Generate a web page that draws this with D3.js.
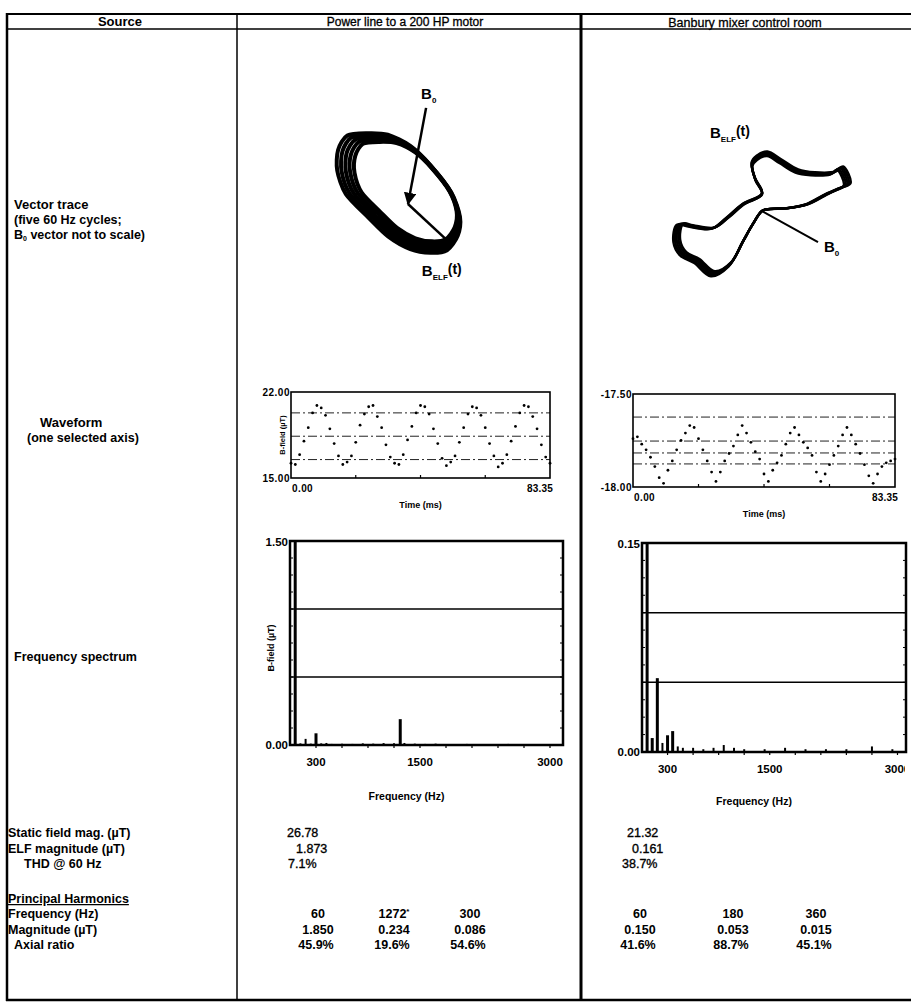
<!DOCTYPE html>
<html>
<head>
<meta charset="utf-8">
<script src="https://cdn.jsdelivr.net/npm/d3@7"></script>
<style>
  body { margin: 0; background: #fff; }
  svg { display: block; font-family: "Liberation Sans", Arial, sans-serif; }
  .b { font-weight: bold; }
</style>
</head>
<body>
<div id="chart"></div>
<script>
// ---- table text ----
const sources = ["Power line to a 200 HP motor", "Banbury mixer control room"];
const staticField = ["26.78", "21.32"];
const elfMagnitude = ["1.873", "0.161"];
const thd = ["7.1%", "38.7%"];
const harmonicFreq = [["60", "1272", "300"], ["60", "180", "360"]];
const harmonicMag = [["1.850", "0.234", "0.086"], ["0.150", "0.053", "0.015"]];
const axialRatio = [["45.9%", "19.6%", "54.6%"], ["41.6%", "88.7%", "45.1%"]];

// ---- vector traces ----
// power line: one 60 Hz loop, µT relative to the B0 tip
const leftTraceX = [1.35, 0.78, 0.08, -0.68, -1.38, -2.15, -2.45, -2.42, -2.10, -1.40, -0.70, 0.08, 0.78, 1.50, 1.80, 1.72];
const leftTraceY = [-1.60, -1.69, -1.56, -1.13, -0.46, 0.34, 1.16, 1.87, 2.37, 2.45, 2.40, 2.01, 1.34, 0.40, -0.45, -1.10];
const leftCycleGain = [0.89, 0.935, 0.98, 1.025, 1.07];
const leftCycleShift = [[0.20, 0.12], [0.15, 0.09], [0.10, 0.06], [0.05, 0.03], [0, 0]];
const leftB0 = [0.67, 3.56]; // not to scale

// banbury mixer: one loop, nT relative to the B0 tip
const rightTraceX = [0, -23, -47, -80, -123, -163, -197, -213, -205, -180, -123, -87, -47, 0, -17, -25, -13, 13, 45, 87, 127, 177, 195, 213, 195, 163, 113, 63, 20];
const rightTraceY = [0, -33, -75, -133, -157, -125, -107, -75, -33, -37, -43, -17, 17, 43, 80, 117, 133, 143, 125, 100, 93, 95, 107, 67, 57, 43, 17, 7, 5];
const rightCycleGain = [0.96, 0.98, 1.0, 1.02, 1.04];
const rightB0 = [140, -78]; // not to scale

// ---- waveforms (5 cycles, 61 samples over 83.35 ms) ----
const tSamples = d3.range(61).map(i => i * 83.35 / 60);
const leftWave = [
  16.2, 16.1, 16.9, 18.0, 19.1, 20.3, 20.9, 20.7, 20.1, 19.0, 17.8, 16.8,
  16.1, 16.3, 16.8, 17.9, 19.3, 20.2, 20.8, 20.9, 20.0, 19.1, 17.7, 16.7,
  16.2, 16.1, 16.9, 18.1, 19.2, 20.3, 20.9, 20.8, 20.2, 19.0, 17.8, 16.6,
  16.0, 16.3, 16.8, 17.9, 19.1, 20.2, 20.8, 20.7, 20.1, 19.1, 17.8, 16.8,
  15.9, 16.2, 16.9, 18.0, 19.2, 20.3, 20.9, 20.8, 20.0, 19.0, 17.7, 16.7,
  16.2
];
const rightWave = [
  -17.74, -17.73, -17.77, -17.80, -17.84, -17.89, -17.95, -17.98, -17.91, -17.86, -17.80, -17.75,
  -17.71, -17.67, -17.68, -17.74, -17.80, -17.86, -17.92, -17.97, -17.92, -17.86, -17.82, -17.78,
  -17.72, -17.67, -17.71, -17.76, -17.81, -17.85, -17.93, -17.97, -17.91, -17.87, -17.83, -17.77,
  -17.71, -17.68, -17.72, -17.76, -17.79, -17.83, -17.92, -17.97, -17.93, -17.88, -17.83, -17.78,
  -17.72, -17.68, -17.72, -17.77, -17.82, -17.88, -17.94, -17.98, -17.93, -17.89, -17.87, -17.86,
  -17.85
];
const leftWaveGrid = [20.3, 18.4, 16.5];
const rightWaveGrid = [-17.624, -17.753, -17.817, -17.876];

// ---- spectra ----
const leftSpecFreq = [60, 120, 180, 240, 300, 360, 420, 480, 600, 720, 840, 960, 1080, 1200, 1272, 1320, 1440, 1560, 1680, 1800, 2040, 2280, 2520, 2760, 3000];
const leftSpecMag = [1.85, 0.012, 0.045, 0.010, 0.086, 0.012, 0.015, 0.008, 0.010, 0.008, 0.012, 0.010, 0.014, 0.012, 0.19, 0.015, 0.010, 0.008, 0.010, 0.006, 0.008, 0.006, 0.008, 0.006, 0.006];
const rightSpecFreq = [60, 120, 180, 240, 300, 360, 420, 480, 600, 720, 840, 960, 1080, 1200, 1440, 1680, 1920, 2160, 2400, 2700, 2940];
const rightSpecMag = [0.150, 0.010, 0.053, 0.0065, 0.012, 0.015, 0.004, 0.003, 0.003, 0.002, 0.003, 0.005, 0.003, 0.002, 0.002, 0.003, 0.002, 0.002, 0.002, 0.004, 0.002];
const specTicks = [300, 1500, 3000];

const W = 913, H = 1007;
const svg = d3.select("#chart").append("svg").attr("width", W).attr("height", H);
svg.append("rect").attr("width", W).attr("height", H).attr("fill", "#fff");
const defs = svg.append("defs");

// ---- table rules ----
const rules = svg.append("g").attr("stroke", "#000");
rules.append("line").attr("x1", 6).attr("x2", 911).attr("y1", 14).attr("y2", 14).attr("stroke-width", 2);
rules.append("line").attr("x1", 6).attr("x2", 911).attr("y1", 29).attr("y2", 29).attr("stroke-width", 1.5);
rules.append("line").attr("x1", 6).attr("x2", 911).attr("y1", 1000).attr("y2", 1000).attr("stroke-width", 2.5);
rules.append("line").attr("x1", 7).attr("x2", 7).attr("y1", 13).attr("y2", 1001).attr("stroke-width", 2.5);
rules.append("line").attr("x1", 237).attr("x2", 237).attr("y1", 13).attr("y2", 1001).attr("stroke-width", 1.5);
rules.append("line").attr("x1", 581).attr("x2", 581).attr("y1", 13).attr("y2", 1001).attr("stroke-width", 3);

function txt(x, y, s, opts = {}) {
  return svg.append("text").attr("x", x).attr("y", y)
    .attr("class", opts.bold === false ? null : "b")
    .attr("text-anchor", opts.anchor || "start")
    .style("font-size", (opts.size || 12.5) + "px")
    .text(s);
}

// header
txt(120, 26, "Source", { anchor: "middle", size: 13 });
txt(405, 26, sources[0], { anchor: "middle", size: 12, bold: false }).attr("stroke", "#000").attr("stroke-width", 0.3);
txt(745, 26.5, sources[1], { anchor: "middle", size: 12.5, bold: false }).attr("stroke", "#000").attr("stroke-width", 0.3);

// left column labels
txt(14, 209, "Vector trace", { size: 13 });
txt(14, 224, "(five 60 Hz cycles;");
const b0t = txt(14, 239, "B");
b0t.append("tspan").attr("dy", 2).style("font-size", "7px").text("0");
b0t.append("tspan").attr("dy", -2).text(" vector not to scale)");
txt(40, 427, "Waveform", { size: 13 });
txt(27, 442, "(one selected axis)");
txt(14, 661, "Frequency spectrum");
txt(8, 837, "Static field mag. (µT)");
txt(8, 853, "ELF magnitude (µT)");
txt(24, 868, "THD @ 60 Hz");
txt(8, 903, "Principal Harmonics").style("text-decoration", "underline");
txt(8, 918, "Frequency (Hz)");
txt(8, 934, "Magnitude (µT)");
txt(14, 949, "Axial ratio");

// values
const staticStart = [[287, 296, 288], [627, 632, 622]];
const harmCenter = [[318, 394, 470], [640, 733, 816]];
[0, 1].forEach(c => {
  txt(staticStart[c][0], 837, staticField[c], { bold: false }).attr("stroke", "#000").attr("stroke-width", 0.35);
  txt(staticStart[c][1], 853, elfMagnitude[c], { bold: false }).attr("stroke", "#000").attr("stroke-width", 0.35);
  txt(staticStart[c][2], 868, thd[c], { bold: false }).attr("stroke", "#000").attr("stroke-width", 0.35);
  harmonicFreq[c].forEach((v, i) => {
    const t = txt(harmCenter[c][i], 918, v, { anchor: "middle" });
    if (c === 0 && i === 1) t.append("tspan").attr("dy", -4).style("font-size", "8px").text("*");
  });
  harmonicMag[c].forEach((v, i) => txt(harmCenter[c][i], 934, v, { anchor: "middle" }));
  axialRatio[c].forEach((v, i) => txt(harmCenter[c][i] - 2, 949, v, { anchor: "middle" }));
});

// ---- B label helper ----
function bLabel(x, y, sub, suffix) {
  const t = txt(x, y, "B", { size: 15 });
  t.append("tspan").attr("dy", 4).style("font-size", "8px").text(sub);
  if (suffix) t.append("tspan").attr("dy", -6).style("font-size", "14px").text(suffix);
}

defs.append("marker")
  .attr("id", "arrow").attr("viewBox", "0 0 10 10").attr("refX", 9).attr("refY", 5)
  .attr("markerWidth", 5).attr("markerHeight", 5).attr("orient", "auto-start-reverse")
  .append("path").attr("d", "M0,0L10,5L0,10Z").attr("fill", "#000");

// ---- vector trace: power line ----
{
  const ox = 408, oy = 204, k = 27; // px per µT
  const x = d3.scaleLinear().domain([-1, 1]).range([ox - k, ox + k]);
  const y = d3.scaleLinear().domain([-1, 1]).range([oy + k, oy - k]);
  const line = d3.line().x(d => x(d[0])).y(d => y(d[1])).curve(d3.curveCardinalClosed.tension(0.2));
  const g = svg.append("g");
  leftCycleGain.forEach((gain, c) => {
    const pts = leftTraceX.map((v, i) => [v * gain + leftCycleShift[c][0], leftTraceY[i] * gain + leftCycleShift[c][1]]);
    g.append("path").attr("d", line(pts)).attr("fill", "none").attr("stroke", "#000").attr("stroke-width", 4);
  });
  // B0 arrow from label down to origin
  g.append("line").attr("x1", x(leftB0[0])).attr("y1", y(leftB0[1])).attr("x2", x(0)).attr("y2", y(0))
    .attr("stroke", "#000").attr("stroke-width", 2.5).attr("marker-end", "url(#arrow)");
  const tip = [leftTraceX[0] * leftCycleGain[0] + leftCycleShift[0][0], leftTraceY[0] * leftCycleGain[0] + leftCycleShift[0][1]];
  g.append("line").attr("x1", x(0)).attr("y1", y(0)).attr("x2", x(tip[0])).attr("y2", y(tip[1]))
    .attr("stroke", "#000").attr("stroke-width", 2.5);
  bLabel(x(leftB0[0]) - 5, y(leftB0[1]) - 9, "0");
  bLabel(x(tip[0]) - 24, y(tip[1]) + 37, "ELF", "(t)");
}

// ---- vector trace: banbury mixer ----
{
  const ox = 762, oy = 211, k = 0.4; // px per nT
  const x = d3.scaleLinear().domain([0, 100]).range([ox, ox + 100 * k]);
  const y = d3.scaleLinear().domain([0, 100]).range([oy, oy - 100 * k]);
  const line = d3.line().x(d => x(d[0])).y(d => y(d[1])).curve(d3.curveCatmullRomClosed);
  const g = svg.append("g");
  rightCycleGain.forEach(gain => {
    const pts = rightTraceX.map((v, i) => [v * gain, rightTraceY[i] * gain]);
    g.append("path").attr("d", line(pts)).attr("fill", "none").attr("stroke", "#000").attr("stroke-width", 2.4);
  });
  g.append("line").attr("x1", x(0)).attr("y1", y(0)).attr("x2", x(rightB0[0])).attr("y2", y(rightB0[1]))
    .attr("stroke", "#000").attr("stroke-width", 2);
  bLabel(x(rightB0[0]) + 6, y(rightB0[1]) + 10, "0");
  bLabel(710, 138, "ELF", "(t)");
}

// ---- waveform panels ----
function waveform(box, yDomain, values, grid, yLabels, showTitle) {
  const x = d3.scaleLinear().domain([0, 83.35]).range([box.x0, box.x1]);
  const y = d3.scaleLinear().domain(yDomain).range([box.y1, box.y0]);
  const g = svg.append("g");
  g.selectAll(".grid").data(grid).join("line")
    .attr("x1", box.x0).attr("x2", box.x1).attr("y1", d => y(d)).attr("y2", d => y(d))
    .attr("stroke", "#222").attr("stroke-width", 1).attr("stroke-dasharray", "9,3,2,3");
  g.selectAll("circle").data(values).join("circle")
    .attr("cx", (d, i) => x(tSamples[i])).attr("cy", d => y(d)).attr("r", 1.4).attr("fill", "#000");
  g.append("rect").attr("x", box.x0).attr("y", box.y0).attr("width", box.x1 - box.x0).attr("height", box.y1 - box.y0)
    .attr("fill", "none").attr("stroke", "#000").attr("stroke-width", 1.6);
  g.selectAll(".tk").data([20.84, 41.68, 62.51]).join("line")
    .attr("x1", d => x(d)).attr("x2", d => x(d)).attr("y1", box.y1).attr("y2", box.y1 - 3)
    .attr("stroke", "#000").attr("stroke-width", 1.2);
  const fs = 10;
  txt(box.x0 - 1, y(yDomain[1]) + 3.5, yLabels[1], { anchor: "end", size: fs }).style("letter-spacing", "0.5px");
  txt(box.x0 - 1, y(yDomain[0]) + 3.5, yLabels[0], { anchor: "end", size: fs }).style("letter-spacing", "0.5px");
  txt(box.x0 + 1, box.y1 + 14, "0.00", { size: fs }).style("letter-spacing", "0.4px");
  txt(box.x1 + 3, box.y1 + 14, "83.35", { anchor: "end", size: fs }).style("letter-spacing", "0.2px");
  txt((box.x0 + box.x1) / 2, box.y1 + 30, "Time (ms)", { anchor: "middle", size: 9 });
  if (showTitle) {
    txt(0, 0, "B-field (µT)", { anchor: "middle", size: 7.5 })
      .attr("transform", `translate(${box.x0 - 6},${(box.y0 + box.y1) / 2}) rotate(-90)`);
  }
}
waveform({ x0: 291, x1: 550, y0: 392, y1: 478 }, [15, 22], leftWave, leftWaveGrid, ["15.00", "22.00"], true);
waveform({ x0: 633, x1: 895, y0: 394, y1: 487 }, [-18, -17.5], rightWave, rightWaveGrid, ["-18.00", "-17.50"], false);

// ---- spectrum panels ----
function spectrum(box, xMax, yMax, freqs, mags, yLabels, labelY, titleY, showTitle, clipRight) {
  const x = d3.scaleLinear().domain([0, xMax]).range([box.x0, box.x1]);
  const y = d3.scaleLinear().domain([0, yMax]).range([box.y1, box.y0]);
  const g = svg.append("g");
  [yMax / 3, 2 * yMax / 3].forEach(v => {
    g.append("line").attr("x1", box.x0).attr("x2", box.x1).attr("y1", y(v)).attr("y2", y(v))
      .attr("stroke", "#000").attr("stroke-width", 1.5);
  });
  g.selectAll(".bar").data(freqs).join("line")
    .attr("x1", d => x(d)).attr("x2", d => x(d))
    .attr("y1", box.y1).attr("y2", (d, i) => y(Math.min(mags[i], yMax)))
    .attr("stroke", "#000").attr("stroke-width", (d, i) => mags[i] > yMax * 0.05 ? 3 : 2);
  g.append("rect").attr("x", box.x0).attr("y", box.y0).attr("width", box.x1 - box.x0).attr("height", box.y1 - box.y0)
    .attr("fill", "none").attr("stroke", "#000").attr("stroke-width", 2.5);
  // minor ticks
  const yt = d3.range(1, 12).map(i => i * yMax / 12);
  g.selectAll(".ly").data(yt).join("line")
    .attr("x1", box.x0).attr("x2", box.x0 + 3).attr("y1", d => y(d)).attr("y2", d => y(d))
    .attr("stroke", "#000").attr("stroke-width", 1);
  g.selectAll(".ry").data(yt).join("line")
    .attr("x1", box.x1).attr("x2", box.x1 - 3).attr("y1", d => y(d)).attr("y2", d => y(d))
    .attr("stroke", "#000").attr("stroke-width", 1);
  g.selectAll(".bx").data(d3.range(300, xMax, 300)).join("line")
    .attr("x1", d => x(d)).attr("x2", d => x(d)).attr("y1", box.y1).attr("y2", box.y1 + 3)
    .attr("stroke", "#000").attr("stroke-width", 1.2);
  txt(box.x0 - 2, box.y0 + 5, yLabels[1], { anchor: "end", size: 11.5 });
  txt(box.x0 - 2, box.y1 + 4, yLabels[0], { anchor: "end", size: 11.5 });
  const lab = svg.append("g");
  if (clipRight) {
    defs.append("clipPath").attr("id", "clipR")
      .append("rect").attr("x", 0).attr("y", 0).attr("width", clipRight).attr("height", H);
    lab.attr("clip-path", "url(#clipR)");
  }
  specTicks.forEach(v => {
    lab.append("text").attr("class", "b").attr("x", x(v)).attr("y", labelY)
      .attr("text-anchor", "middle").style("font-size", "11.5px").text(v);
  });
  txt((box.x0 + box.x1) / 2 - 20, titleY, "Frequency (Hz)", { anchor: "middle", size: 10.5 });
  if (showTitle) {
    txt(0, 0, "B-field (µT)", { anchor: "middle", size: 9 })
      .attr("transform", `translate(${box.x0 - 16},${(box.y0 + box.y1) / 2 + 5}) rotate(-90)`);
  }
}
spectrum({ x0: 290, x1: 563, y0: 541, y1: 745 }, 3150, 1.5, leftSpecFreq, leftSpecMag, ["0.00", "1.50"], 766, 800, true, null);
spectrum({ x0: 642, x1: 906, y0: 543, y1: 752 }, 3100, 0.15, rightSpecFreq, rightSpecMag, ["0.00", "0.15"], 773, 805, false, 905);
</script>
</body>
</html>
